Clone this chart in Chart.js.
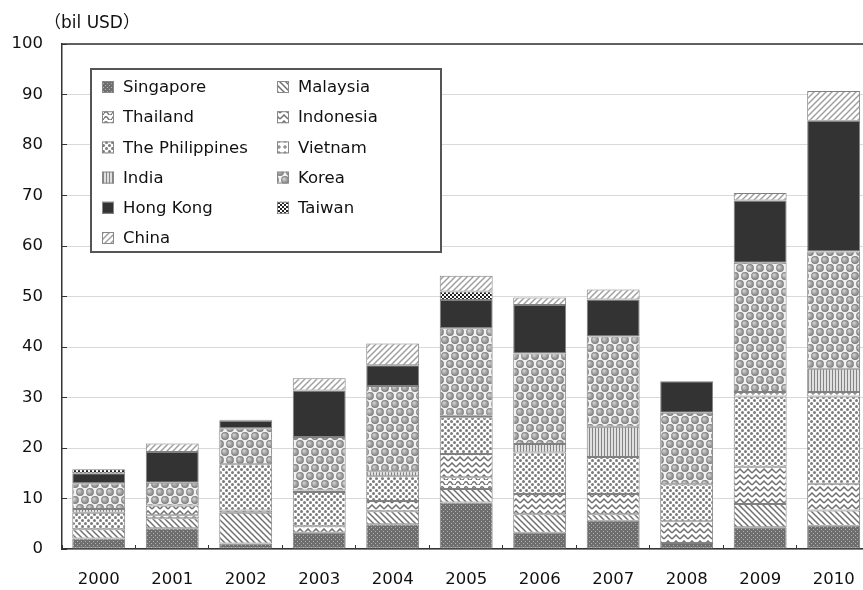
<!DOCTYPE html>
<html>
<head>
<meta charset="utf-8">
<script src="https://cdn.jsdelivr.net/npm/chart.js@4/dist/chart.umd.min.js"></script>
<style>
    html, body { margin: 0; padding: 0; background: #fff; overflow: hidden; }
    #wrap { position: relative; width: 880px; height: 590px; }
</style>
</head>
<body>
<div id="wrap"><canvas id="fdiChart"></canvas></div>
<script>
// ===== Datos (bil USD) =====
const years = ['2000', '2001', '2002', '2003', '2004', '2005', '2006', '2007', '2008', '2009', '2010'];

const singapore   = [2.1, 4.1, 1.1, 3.2, 4.9, 9.2, 3.2, 5.6, 1.2, 4.3, 4.6];
const malaysia    = [1.8, 2.0, 6.1, 0,   2.6, 2.7, 3.7, 1.3, 0,   4.6, 3.0];
const thailand    = [0,   0.6, 0,   0,   0,   2.3, 0,   0,   0,   0,   0];
const indonesia   = [0,   1.9, 0.4, 1.3, 2.0, 4.6, 4.0, 4.0, 4.3, 7.4, 5.3];
const philippines = [3.3, 0,   9.2, 6.8, 4.9, 7.3, 8.2, 7.3, 7.3, 13.9, 17.3];
const vietnam     = [0,   0,   0,   0.3, 0,   0.3, 0,   0,   0,   0.9, 0.9];
const india       = [0.7, 0,   0,   0,   1.0, 0,   1.7, 6.0, 0,   0,   4.6];
const korea       = [5.1, 4.5, 7.1, 10.6, 16.9, 17.3, 17.9, 17.9, 14.2, 25.6, 23.2];
const hongKong    = [2.0, 6.1, 1.5, 9.2, 4.1, 5.6, 9.6, 7.3, 6.2, 12.3, 25.9];
const taiwan      = [0.8, 0,   0,   0,   0,   1.7, 0,   0,   0,   0,   0];
const china       = [0,   1.7, 0.2, 2.4, 4.3, 3.1, 1.5, 2.0, 0,   1.5, 5.9];

const yTicks = [0, 10, 20, 30, 40, 50, 60, 70, 80, 90, 100];
const unitLabel = '（bil USD）';

const FONT = "'DejaVu Sans', 'Noto Sans CJK JP', sans-serif";
const TEXT_COLOR = '#111';

// Tramas en escala de grises
function makePattern(kind) {
    const c = document.createElement('canvas');
    const g = c.getContext('2d');
    let w = 6, h = 6;
    if (kind === 'grid') { w = 4; h = 4; }
    if (kind === 'wave') { w = 8; h = 5; }
    if (kind === 'zig') { w = 8; h = 6; }
    if (kind === 'vert') { w = 3; h = 3; }
    if (kind === 'ball') { w = 10; h = 16; }
    if (kind === 'check') { w = 4; h = 4; }
    c.width = w; c.height = h;
    g.fillStyle = '#fff';
    g.fillRect(0, 0, w, h);
    g.strokeStyle = '#707070';
    g.lineWidth = 1.5;

    switch (kind) {
        case 'grid':
            g.fillStyle = '#6e6e6e';
            g.fillRect(0, 0, w, h);
            g.fillStyle = '#b0b0b0';
            g.fillRect(1, 1, 1, 1);
            g.fillRect(3, 3, 1, 1);
            break;
        case 'back':
            g.beginPath();
            g.moveTo(-1, -1); g.lineTo(w + 1, h + 1);
            g.moveTo(-1, h - 1); g.lineTo(1, h + 1);
            g.moveTo(w - 1, -1); g.lineTo(w + 1, 1);
            g.stroke();
            break;
        case 'wave':
            g.beginPath();
            g.moveTo(0, 3.5);
            g.quadraticCurveTo(2, 0, 4, 3.5);
            g.quadraticCurveTo(6, 7, 8, 3.5);
            g.stroke();
            break;
        case 'zig':
            g.beginPath();
            g.moveTo(0, 5); g.lineTo(4, 1); g.lineTo(8, 5);
            g.stroke();
            break;
        case 'dots':
            g.fillStyle = '#7c7c7c';
            g.beginPath();
            g.arc(1.5, 1.5, 1.5, 0, Math.PI * 2);
            g.fill();
            g.beginPath();
            g.arc(4.5, 4.5, 1.5, 0, Math.PI * 2);
            g.fill();
            break;
        case 'plus':
            g.lineWidth = 1;
            g.beginPath();
            g.moveTo(3, 1); g.lineTo(3, 5);
            g.moveTo(1, 3); g.lineTo(5, 3);
            g.stroke();
            break;
        case 'vert':
            g.fillStyle = '#e0e0e0';
            g.fillRect(0, 0, w, h);
            g.fillStyle = '#858585';
            g.fillRect(1, 0, 1, h);
            break;
        case 'ball': {
            g.fillStyle = '#f2f2f2';
            g.fillRect(0, 0, w, h);
            const centers = [[5, 4], [0, 12], [10, 12]];
            centers.forEach(([cx, cy]) => {
                const grad = g.createRadialGradient(cx - 1.2, cy - 1.2, 0.3, cx, cy, 3.9);
                grad.addColorStop(0, '#d4d4d4');
                grad.addColorStop(1, '#7a7a7a');
                g.fillStyle = grad;
                g.beginPath();
                g.arc(cx, cy, 3.9, 0, Math.PI * 2);
                g.fill();
            });
            break;
        }
        case 'check':
            g.fillStyle = '#222';
            g.fillRect(0, 0, 2, 2);
            g.fillRect(2, 2, 2, 2);
            break;
        case 'fwd':
            g.strokeStyle = '#a0a0a0';
            g.beginPath();
            g.moveTo(-1, h + 1); g.lineTo(w + 1, -1);
            g.moveTo(-1, 1); g.lineTo(1, -1);
            g.moveTo(w - 1, h + 1); g.lineTo(w + 1, h - 1);
            g.stroke();
            break;
    }
    return g.createPattern(c, 'repeat');
}

const seriesDefs = [
    { label: 'Singapore',        data: singapore,   fill: makePattern('grid') },
    { label: 'Malaysia',         data: malaysia,    fill: makePattern('back') },
    { label: 'Thailand',         data: thailand,    fill: makePattern('wave') },
    { label: 'Indonesia',        data: indonesia,   fill: makePattern('zig') },
    { label: 'The Philippines',  data: philippines, fill: makePattern('dots') },
    { label: 'Vietnam',          data: vietnam,     fill: makePattern('plus') },
    { label: 'India',            data: india,       fill: makePattern('vert') },
    { label: 'Korea',            data: korea,       fill: makePattern('ball') },
    { label: 'Hong Kong',        data: hongKong,    fill: '#333333' },
    { label: 'Taiwan',           data: taiwan,      fill: makePattern('check') },
    { label: 'China',            data: china,       fill: makePattern('fwd') }
];

// Leyenda en dos columnas dentro del área del gráfico + título de unidades + marco
const boxLegendPlugin = {
    id: 'boxLegend',
    afterDraw(chart) {
        const ctx = chart.ctx;
        const area = chart.chartArea;
        ctx.save();

        // marco superior / derecho
        ctx.strokeStyle = '#333';
        ctx.lineWidth = 1.5;
        ctx.beginPath();
        ctx.moveTo(area.left, area.top);
        ctx.lineTo(area.right, area.top);
        ctx.lineTo(area.right, area.bottom);
        ctx.stroke();

        // unidad
        ctx.fillStyle = TEXT_COLOR;
        ctx.font = '17px ' + FONT;
        ctx.textBaseline = 'middle';
        ctx.textAlign = 'left';
        ctx.fillText(unitLabel, 44, 24);

        // caja de leyenda
        const bx = 91, by = 69, bw = 350, bh = 183;
        ctx.fillStyle = '#fff';
        ctx.fillRect(bx, by, bw, bh);
        ctx.strokeStyle = '#555';
        ctx.lineWidth = 2;
        ctx.strokeRect(bx, by, bw, bh);

        ctx.font = '16.5px ' + FONT;
        chart.data.datasets.forEach((ds, i) => {
            const col = i % 2;
            const row = Math.floor(i / 2);
            const x = 102 + col * 175;
            const y = 87 + row * 30.2;
            ctx.fillStyle = ds.backgroundColor;
            ctx.fillRect(x, y - 6, 12, 12);
            ctx.strokeStyle = '#888';
            ctx.lineWidth = 1;
            ctx.strokeRect(x + 0.5, y - 5.5, 11, 11);
            ctx.fillStyle = TEXT_COLOR;
            ctx.fillText(ds.label, x + 21, y + 1);
        });
        ctx.restore();
    }
};

const ctx = document.getElementById('fdiChart').getContext('2d');

new Chart(ctx, {
    type: 'bar',
    data: {
        labels: years,
        datasets: seriesDefs.map(s => ({
            label: s.label,
            data: s.data,
            backgroundColor: s.fill,
            borderColor: '#808080',
            borderWidth: 1,
            borderSkipped: false,
            barPercentage: 0.72,
            categoryPercentage: 1
        }))
    },
    options: {
        responsive: true,
        maintainAspectRatio: false,
        animation: false,
        layout: {
            padding: { top: 44, right: 8, left: 0, bottom: 0 }
        },
        plugins: {
            legend: { display: false },
            tooltip: { enabled: false }
        },
        scales: {
            x: {
                stacked: true,
                afterFit: (scale) => { scale.height = 41; },
                grid: {
                    drawOnChartArea: false,
                    drawTicks: true,
                    tickLength: -4,
                    tickColor: '#333',
                    offset: true
                },
                border: { color: '#333', width: 1.5 },
                ticks: {
                    color: TEXT_COLOR,
                    padding: 25,
                    font: { family: FONT, size: 16.5 }
                }
            },
            y: {
                stacked: true,
                min: 0,
                max: 100,
                afterFit: (scale) => { scale.width = 62; },
                afterBuildTicks: (scale) => {
                    scale.ticks = yTicks.map(v => ({ value: v }));
                },
                grid: {
                    color: '#d9d9d9',
                    drawTicks: true,
                    tickLength: -5,
                    tickColor: '#333'
                },
                border: { color: '#333', width: 1.5 },
                ticks: {
                    color: TEXT_COLOR,
                    padding: 24,
                    font: { family: FONT, size: 16.5 }
                }
            }
        }
    },
    plugins: [boxLegendPlugin]
});
</script>
</body>
</html>
